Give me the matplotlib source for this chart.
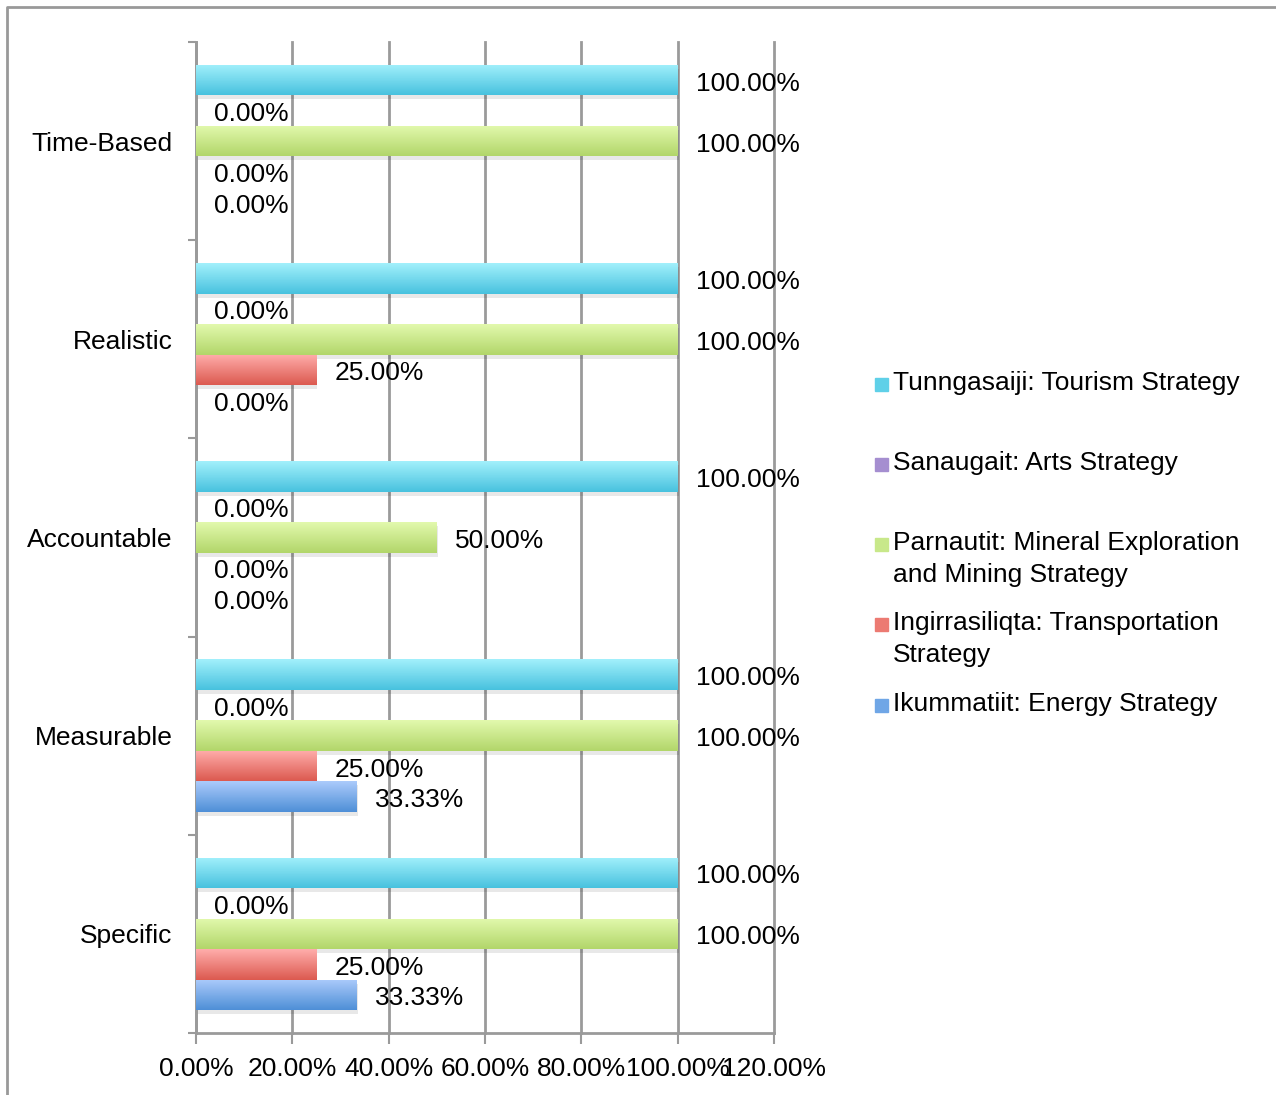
import numpy as np
import matplotlib
matplotlib.use("Agg")
import matplotlib.pyplot as plt
from matplotlib.colors import LinearSegmentedColormap
from matplotlib.patches import Rectangle
from matplotlib.lines import Line2D
import matplotlib.transforms as mtransforms

plt.rcParams['font.family'] = ['Liberation Sans', 'DejaVu Sans']

# categories, bottom to top as matplotlib draws them
categories = ['Specific', 'Measurable', 'Accountable', 'Realistic', 'Time-Based']

series_names = [
    'Tunngasaiji: Tourism Strategy',
    'Sanaugait: Arts Strategy',
    'Parnautit: Mineral Exploration\nand Mining Strategy',
    'Ingirrasiliqta: Transportation\nStrategy',
    'Ikummatiit: Energy Strategy',
]
tourism = [100, 100, 100, 100, 100]
arts = [0, 0, 0, 0, 0]
mineral = [100, 100, 50, 100, 100]
transport = [25, 25, 0, 25, 0]
energy = [33.33, 33.33, 0, 0, 0]
values = [tourism, arts, mineral, transport, energy]

xticks = [0, 20, 40, 60, 80, 100, 120]

# gradient colours (top, bottom) per series
grad = [
    ('#a2f0fc', '#48c2de'),
    ('#c9b6e4', '#8f72c0'),
    ('#e2f9ad', '#b2d66a'),
    ('#ffadab', '#dc5a50'),
    ('#abcbfb', '#4f8fd7'),
]
legend_sq = ['#5fd0e8', '#a58ed0', '#c8e88a', '#ec7a72', '#6fa6e6']

W, H = 1276, 1095
fig = plt.figure(figsize=(W / 100, H / 100), dpi=100)
ax = fig.add_axes([196 / W, (H - 1033) / H, (774 - 196) / W, (1033 - 42) / H])

grid_c = '#9a9a9a'
ax.set_xlim(0, 120)
ax.set_ylim(-0.5, 4.5)
ax.set_xticks(xticks)
ax.set_xticklabels([f'{v:.2f}%' for v in xticks], fontsize=19)
ax.set_yticks(np.arange(len(categories)))
ax.set_yticklabels(categories, fontsize=19)
ax.set_yticks(np.arange(-0.5, 5, 1), minor=True)
ax.tick_params(axis='y', which='major', length=0, pad=17)
ax.tick_params(axis='y', which='minor', length=6, width=1.5, color=grid_c, direction='out')
ax.tick_params(axis='x', length=8, width=1.5, color=grid_c, pad=9)
ax.xaxis.grid(True, color=grid_c, linewidth=2)
for gl in ax.get_xgridlines():
    gl.set_clip_on(False)
ax.set_axisbelow(True)
for s in ['top', 'right']:
    ax.spines[s].set_visible(False)
for s in ['left', 'bottom']:
    ax.spines[s].set_color(grid_c)
    ax.spines[s].set_linewidth(2)

h = 0.154
offsets = [2 * h, h, 0, -h, -2 * h]
y = np.arange(len(categories))

for vals, off, (c1, c2) in zip(values, offsets, grad):
    cmap = LinearSegmentedColormap.from_list('g', [c2, c1])
    # soft shadow
    shadow = mtransforms.offset_copy(ax.transData, fig=fig, x=1, y=-4, units='dots')
    ax.barh(y + off, vals, height=h, color='#000000', alpha=0.09, transform=shadow, zorder=2)
    bars = ax.barh(y + off, vals, height=h, color=c2, zorder=3)
    for b, v in zip(bars, vals):
        if v <= 0:
            continue
        x0, y0 = b.get_x(), b.get_y()
        im = ax.imshow(np.linspace(0, 1, 50).reshape(-1, 1), cmap=cmap, aspect='auto',
                       extent=(x0, x0 + b.get_width(), y0, y0 + b.get_height()),
                       origin='lower', zorder=3.5)
        im.set_clip_path(b)
    for yy, v in zip(y + off, vals):
        ax.annotate(f'{v:.2f}%', (v, yy), xytext=(13, -2.5), textcoords='offset points',
                    ha='left', va='center', fontsize=19, zorder=5)

ax.set_xlim(0, 120)
ax.set_ylim(-0.5, 4.5)

# legend drawn by hand to keep Excel-like even spacing
leg_y = [383, 463, 559, 639, 704]
for name, c, ly in zip(series_names, legend_sq, leg_y):
    first_line_y = ly if '\n' not in name else ly - 16
    fig.patches.append(Rectangle((875 / W, (H - first_line_y - 8) / H), 13 / W, 13 / H,
                                 transform=fig.transFigure, color=c, figure=fig))
    fig.text(893 / W, (H - ly) / H, name, fontsize=19, ha='left', va='center',
             linespacing=1.38)

# outer frame (top and left edges)
fig.lines.append(Line2D([7 / W, 7 / W, 1], [0, 1 - 7 / H, 1 - 7 / H],
                        transform=fig.transFigure, color='#999999', linewidth=2))

fig.savefig('out.png', dpi=100)
